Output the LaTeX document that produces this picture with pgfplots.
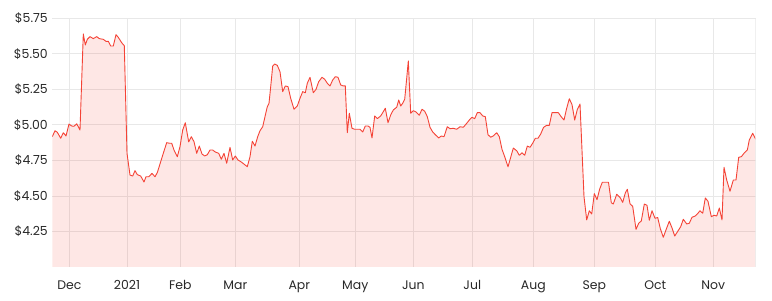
\documentclass[border=0pt]{standalone}
\usepackage{fontspec}
\setmainfont{Poppins}
\usepackage{pgfplots}
\pgfplotsset{compat=1.18}
\definecolor{linered}{RGB}{244,67,54}
\definecolor{fillpink}{RGB}{253,230,228}
\definecolor{gridgray}{RGB}{232,232,232}
\definecolor{basepink}{RGB}{228,205,205}
\definecolor{labelgray}{RGB}{40,40,40}
\begin{document}
\begin{tikzpicture}
\path[use as bounding box] (-52.3bp,-34bp) rectangle (719.7bp,267bp);
\begin{axis}[
  scale only axis,
  width=703.4bp, height=248.7bp,
  at={(0,0)}, anchor=south west,
  xmin=52.3, xmax=755.7,
  ymin=4.0, ymax=5.75,
  axis line style={draw=none},
  tick style={draw=none},
  xtick={69.3,127,180.3,235.3,299.3,355.3,413.3,472.3,533.3,594.3,655.3,713.3},
  xticklabels={Dec,2021,Feb,Mar,Apr,May,Jun,Jul,Aug,Sep,Oct,Nov},
  ytick={4.25,4.5,4.75,5.0,5.25,5.5,5.75},
  yticklabels={\$4.25,\$4.50,\$4.75,\$5.00,\$5.25,\$5.50,\$5.75},
  grid=major,
  major grid style={gridgray, line width=0.8bp},
  tick label style={font=\fontsize{12.5}{14}\selectfont, text=labelgray},
  xticklabel style={anchor=base, yshift=-22bp},
  yticklabel style={xshift=-1bp},
  clip=true,
]
\addplot[draw=none, fill=linered, fill opacity=0.13] coordinates {
(52.3,4.917)(55,4.959)(57.3,4.948)(60.7,4.906)(63.3,4.945)(66,4.922)(69,5.006)(71.7,4.992)(74,4.990)(76.7,5.008)(80,4.964)
(83.3,5.640)(85.3,5.562)(87.3,5.602)(90,5.621)(93.3,5.607)(96.7,5.621)(99.3,5.607)(103.3,5.602)(106,5.588)(108.3,5.588)
(110.7,5.555)(113.3,5.555)(116,5.635)(118.3,5.616)(121.7,5.578)(124.3,5.557)(127,4.800)(130,4.647)(132.7,4.640)(135,4.678)
(137.3,4.650)(140.7,4.640)(144,4.598)(146,4.635)(148.7,4.635)(152,4.659)(155,4.635)(157.3,4.664)(160.7,4.741)(163.3,4.800)
(166.7,4.875)(169.3,4.871)(171.7,4.871)(174,4.823)(177.3,4.776)(180,4.847)(182.7,4.964)(185.3,5.015)(188.7,4.880)(191.3,4.917)
(194,4.882)(196.7,4.800)(199.3,4.851)(202,4.795)(204.7,4.781)(207.3,4.790)(210,4.823)(212.7,4.823)(215.3,4.809)(218.7,4.800)
(221.3,4.758)(224,4.800)(226.7,4.730)(230,4.842)(232.7,4.753)(235.3,4.781)(238,4.753)(241.3,4.739)(244.7,4.720)(247.3,4.706)
(250,4.776)(252.3,4.885)(255,4.851)(257.7,4.917)(260,4.959)(262.7,4.987)(265,5.058)(267.3,5.128)(269,5.152)(270.7,5.269)
(272.7,5.414)(274.7,5.428)(277.3,5.419)(280,5.374)(282.7,5.234)(285.3,5.274)(288,5.269)(290.7,5.187)(294,5.110)(297.3,5.133)
(300,5.187)(302.7,5.234)(305.3,5.226)(307.3,5.293)(310,5.335)(313.3,5.226)(316,5.250)(318.7,5.304)(322,5.335)(324.7,5.321)
(327.3,5.293)(330,5.274)(332.7,5.316)(335.3,5.339)(338,5.335)(340.7,5.281)(343.3,5.274)(345.3,5.274)(347.3,4.945)(349.3,5.082)
(352,4.976)(354.7,4.969)(357.3,4.969)(360,4.969)(362.7,4.950)(365.3,4.992)(368,4.992)(370,4.983)(372,4.908)(374.7,5.063)
(377.3,5.044)(380.7,5.063)(383.3,5.093)(385.3,5.117)(388,5.015)(390.7,5.070)(393.3,5.105)(396.7,5.124)(398.7,5.175)(400.7,5.133)
(402.7,5.152)(404.7,5.180)(406.7,5.328)(408.3,5.450)(410.7,5.082)(413.3,5.100)(416,5.091)(419.3,5.068)(422,5.110)(424.7,5.096)
(427.3,5.058)(430,4.983)(432.7,4.950)(435.3,4.931)(438.7,4.908)(441.3,4.922)(444,4.917)(447.3,4.987)(450,4.973)(453.3,4.976)
(456.7,4.969)(460,4.987)(463.3,4.983)(466.7,5.011)(469.3,5.034)(472,5.053)(474.7,5.044)(477.3,5.086)(480,5.086)(482.7,5.063)
(485.3,5.058)(488,4.931)(490.7,4.913)(493.3,4.922)(496.7,4.945)(499.3,4.917)(502,4.828)(504.7,4.776)(508,4.705)(510.7,4.772)
(513.3,4.837)(516.7,4.818)(519.3,4.786)(522,4.804)(524.7,4.786)(527.3,4.851)(530,4.842)(532.7,4.871)(535.3,4.906)(538,4.906)
(540.7,4.936)(543.5,4.982)(546.7,4.997)(549.3,4.997)(552,5.086)(555.3,5.086)(558.3,5.086)(561,5.059)(564,5.034)(566.5,5.112)
(569.3,5.184)(572,5.143)(574.7,5.034)(577.3,5.108)(580,5.147)(584,4.495)(586.7,4.331)(589.3,4.396)(591.7,4.373)(594.3,4.516)
(597,4.474)(599.7,4.549)(602.3,4.596)(606,4.596)(608.5,4.596)(611.3,4.452)(613.3,4.443)(616.7,4.512)(620,4.490)(622.7,4.455)
(625.3,4.521)(627.3,4.547)(630,4.445)(632.7,4.427)(636,4.265)(638.7,4.308)(641.3,4.324)(644.3,4.443)(647,4.434)(649.3,4.329)
(652,4.396)(655,4.343)(657.7,4.348)(660.3,4.270)(663.3,4.209)(666.3,4.267)(669.3,4.322)(672,4.275)(674.7,4.218)(677.3,4.246)
(680.7,4.284)(683.3,4.336)(686.7,4.303)(689.3,4.308)(692,4.350)(695.3,4.359)(697.3,4.373)(700,4.396)(702.7,4.378)(705.3,4.486)
(708,4.462)(711.3,4.354)(714,4.364)(716.7,4.359)(719.3,4.415)(722,4.331)(724,4.702)(726.7,4.612)(730,4.533)(733.3,4.612)
(736,4.612)(738.7,4.772)(741.3,4.776)(744,4.800)(747.3,4.823)(749.3,4.894)(752.7,4.941)(755.7,4.899)
} \closedcycle;
\addplot[linered, line width=0.9bp, line join=round] coordinates {
(52.3,4.917)(55,4.959)(57.3,4.948)(60.7,4.906)(63.3,4.945)(66,4.922)(69,5.006)(71.7,4.992)(74,4.990)(76.7,5.008)(80,4.964)
(83.3,5.640)(85.3,5.562)(87.3,5.602)(90,5.621)(93.3,5.607)(96.7,5.621)(99.3,5.607)(103.3,5.602)(106,5.588)(108.3,5.588)
(110.7,5.555)(113.3,5.555)(116,5.635)(118.3,5.616)(121.7,5.578)(124.3,5.557)(127,4.800)(130,4.647)(132.7,4.640)(135,4.678)
(137.3,4.650)(140.7,4.640)(144,4.598)(146,4.635)(148.7,4.635)(152,4.659)(155,4.635)(157.3,4.664)(160.7,4.741)(163.3,4.800)
(166.7,4.875)(169.3,4.871)(171.7,4.871)(174,4.823)(177.3,4.776)(180,4.847)(182.7,4.964)(185.3,5.015)(188.7,4.880)(191.3,4.917)
(194,4.882)(196.7,4.800)(199.3,4.851)(202,4.795)(204.7,4.781)(207.3,4.790)(210,4.823)(212.7,4.823)(215.3,4.809)(218.7,4.800)
(221.3,4.758)(224,4.800)(226.7,4.730)(230,4.842)(232.7,4.753)(235.3,4.781)(238,4.753)(241.3,4.739)(244.7,4.720)(247.3,4.706)
(250,4.776)(252.3,4.885)(255,4.851)(257.7,4.917)(260,4.959)(262.7,4.987)(265,5.058)(267.3,5.128)(269,5.152)(270.7,5.269)
(272.7,5.414)(274.7,5.428)(277.3,5.419)(280,5.374)(282.7,5.234)(285.3,5.274)(288,5.269)(290.7,5.187)(294,5.110)(297.3,5.133)
(300,5.187)(302.7,5.234)(305.3,5.226)(307.3,5.293)(310,5.335)(313.3,5.226)(316,5.250)(318.7,5.304)(322,5.335)(324.7,5.321)
(327.3,5.293)(330,5.274)(332.7,5.316)(335.3,5.339)(338,5.335)(340.7,5.281)(343.3,5.274)(345.3,5.274)(347.3,4.945)(349.3,5.082)
(352,4.976)(354.7,4.969)(357.3,4.969)(360,4.969)(362.7,4.950)(365.3,4.992)(368,4.992)(370,4.983)(372,4.908)(374.7,5.063)
(377.3,5.044)(380.7,5.063)(383.3,5.093)(385.3,5.117)(388,5.015)(390.7,5.070)(393.3,5.105)(396.7,5.124)(398.7,5.175)(400.7,5.133)
(402.7,5.152)(404.7,5.180)(406.7,5.328)(408.3,5.450)(410.7,5.082)(413.3,5.100)(416,5.091)(419.3,5.068)(422,5.110)(424.7,5.096)
(427.3,5.058)(430,4.983)(432.7,4.950)(435.3,4.931)(438.7,4.908)(441.3,4.922)(444,4.917)(447.3,4.987)(450,4.973)(453.3,4.976)
(456.7,4.969)(460,4.987)(463.3,4.983)(466.7,5.011)(469.3,5.034)(472,5.053)(474.7,5.044)(477.3,5.086)(480,5.086)(482.7,5.063)
(485.3,5.058)(488,4.931)(490.7,4.913)(493.3,4.922)(496.7,4.945)(499.3,4.917)(502,4.828)(504.7,4.776)(508,4.705)(510.7,4.772)
(513.3,4.837)(516.7,4.818)(519.3,4.786)(522,4.804)(524.7,4.786)(527.3,4.851)(530,4.842)(532.7,4.871)(535.3,4.906)(538,4.906)
(540.7,4.936)(543.5,4.982)(546.7,4.997)(549.3,4.997)(552,5.086)(555.3,5.086)(558.3,5.086)(561,5.059)(564,5.034)(566.5,5.112)
(569.3,5.184)(572,5.143)(574.7,5.034)(577.3,5.108)(580,5.147)(584,4.495)(586.7,4.331)(589.3,4.396)(591.7,4.373)(594.3,4.516)
(597,4.474)(599.7,4.549)(602.3,4.596)(606,4.596)(608.5,4.596)(611.3,4.452)(613.3,4.443)(616.7,4.512)(620,4.490)(622.7,4.455)
(625.3,4.521)(627.3,4.547)(630,4.445)(632.7,4.427)(636,4.265)(638.7,4.308)(641.3,4.324)(644.3,4.443)(647,4.434)(649.3,4.329)
(652,4.396)(655,4.343)(657.7,4.348)(660.3,4.270)(663.3,4.209)(666.3,4.267)(669.3,4.322)(672,4.275)(674.7,4.218)(677.3,4.246)
(680.7,4.284)(683.3,4.336)(686.7,4.303)(689.3,4.308)(692,4.350)(695.3,4.359)(697.3,4.373)(700,4.396)(702.7,4.378)(705.3,4.486)
(708,4.462)(711.3,4.354)(714,4.364)(716.7,4.359)(719.3,4.415)(722,4.331)(724,4.702)(726.7,4.612)(730,4.533)(733.3,4.612)
(736,4.612)(738.7,4.772)(741.3,4.776)(744,4.800)(747.3,4.823)(749.3,4.894)(752.7,4.941)(755.7,4.899)
};
\draw[gridgray, line width=0.8bp] (axis cs:755.7,4.0) -- (axis cs:755.7,5.75);
\draw[basepink, line width=1bp] (axis cs:52.3,4.0) -- (axis cs:755.7,4.0);
\end{axis}
\end{tikzpicture}
\end{document}
